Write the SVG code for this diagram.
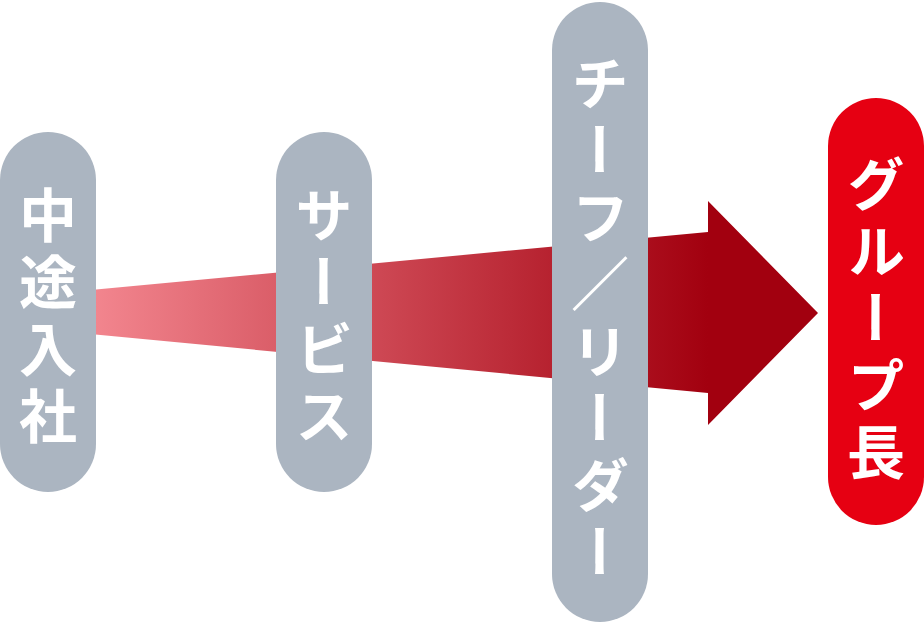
<svg xmlns="http://www.w3.org/2000/svg" width="924" height="624" viewBox="0 0 924 624">
  <defs>
    <linearGradient id="arrowGrad" gradientUnits="userSpaceOnUse" x1="96" y1="0" x2="708" y2="0">
      <stop offset="0" stop-color="#f2858e"/>
      <stop offset="1" stop-color="#a2000f"/>
    </linearGradient>
    <style>
      .pill-grey { fill: #abb5c1; }
      .pill-red { fill: #e60012; }
      .label { fill: #ffffff; font-family: "Noto Sans CJK JP", "Noto Sans", sans-serif; font-weight: 700; font-size: 58px; writing-mode: vertical-rl; text-anchor: middle; letter-spacing: 9px; }
    </style>
  </defs>
  <rect width="924" height="624" fill="#ffffff"/>
  <g id="connectors">
    <polygon points="48,294 708,232 708,201 818,313 708,425 708,393 48,330" fill="url(#arrowGrad)"/>
  </g>
  <g id="node-chuto">
    <rect class="pill-grey" x="0" y="132" width="96" height="360" rx="48" ry="48"/>
    <text class="label" x="48" y="320">中途入社</text>
  </g>
  <g id="node-service">
    <rect class="pill-grey" x="276" y="132" width="96" height="360" rx="48" ry="48"/>
    <text class="label" x="324" y="320">サービス</text>
  </g>
  <g id="node-chief">
    <rect class="pill-grey" x="552" y="2" width="96" height="620" rx="48" ry="48"/>
    <text class="label" x="600" y="322">チーフ／リーダー</text>
  </g>
  <g id="node-group">
    <rect class="pill-red" x="828" y="98" width="96" height="427" rx="48" ry="48"/>
    <text class="label" x="876" y="322">グループ長</text>
  </g>
</svg>
